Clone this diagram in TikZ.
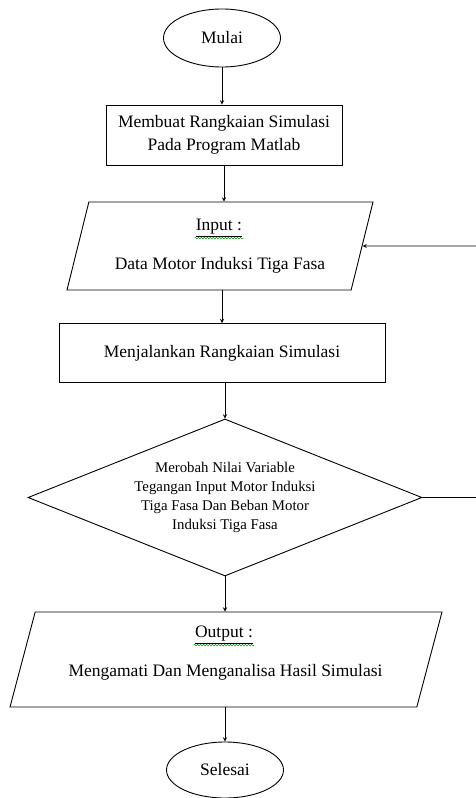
\documentclass[tikz,border=0pt]{standalone}
\usepackage{fontspec}
\setmainfont{Liberation Serif}
\usetikzlibrary{shapes.geometric,arrows,decorations.pathmorphing}

\tikzset{
  term/.style={draw, ellipse, minimum width=117pt, minimum height=58pt, inner sep=0pt},
  proc/.style={draw, rectangle, align=center, inner sep=0pt},
  io/.style={draw, trapezium, trapezium stretches body=true, inner sep=2pt},
  dec/.style={draw, diamond, aspect=2.5, align=center, inner sep=0pt,
    font=\fontsize{14.8}{19}\selectfont},
  txt/.style={inner sep=1pt},
  wavy/.style={draw=green!60!black, line width=0.5pt, decorate,
    decoration={snake, amplitude=0.8pt, segment length=3pt}}
}

\begin{document}
\begin{tikzpicture}[x=1pt, y=-1pt, line width=0.9pt, >=stealth,
    font=\fontsize{17.5}{23}\selectfont]
  \useasboundingbox (0,0) rectangle (476,798);

  \node[term] (A) at (222,38) {Mulai};
  \node[proc, minimum width=236pt, minimum height=60pt] (B) at (224,135)
    {Membuat Rangkaian Simulasi\\Pada Program Matlab};
  \node[io, trapezium left angle=51, trapezium right angle=129,
    minimum width=306pt, minimum height=88pt] (C) at (220,246) {\strut};
  \node[txt] (C1) at (219,228) {\underline{Input :}};
  \node[txt] (C2) at (220,265) {Data Motor Induksi Tiga Fasa};
  \node[proc, minimum width=326pt, minimum height=59pt] (D) at (222,353)
    {Menjalankan Rangkaian Simulasi};
  \node[dec, minimum width=394pt, minimum height=157pt] (E) at (225,497.5)
    {Merobah Nilai Variable\\Tegangan Input Motor Induksi\\Tiga Fasa Dan Beban Motor\\Induksi Tiga Fasa};
  \node[io, trapezium left angle=47, trapezium right angle=133,
    minimum width=432pt, minimum height=95pt] (F) at (226,659.5) {\strut};
  \node[txt] (F1) at (224,635) {\underline{Output :}};
  \node[txt] (F2) at (225.5,672) {Mengamati Dan Menganalisa Hasil Simulasi};
  \node[term, minimum height=56pt] (G) at (225,770) {Selesai};
  \coordinate (H) at (482,246);

  % spelling marks
  \draw[wavy] (C1.south west) -- (C1.south east);
  \draw[wavy] (F1.south west) -- (F1.south east);

  \draw[->] (A) -- (A |- B.north);
  \draw[->] (B) -- (B |- C.north);
  \draw[->] (D |- C.south) -- (D.north);
  \draw[->] (E |- D.south) -- (E.north);
  \draw[->] (E) -- (E |- F.north);
  \draw[->] (G |- F.south) -- (G.north);
  \draw[->] (E.east) -| (H) -- (C.east);
\end{tikzpicture}
\end{document}
